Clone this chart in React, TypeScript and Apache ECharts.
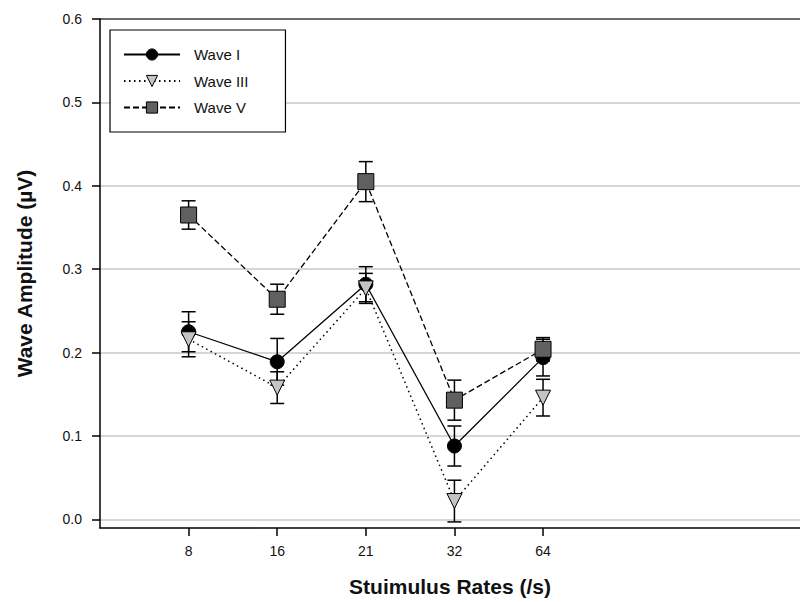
import React, { useEffect, useRef } from "react";
import * as echarts from "echarts";

const rates = ["8", "16", "21", "32", "64"];
const waveI = [0.225, 0.189, 0.282, 0.088, 0.194];
const waveIErr = [0.024, 0.028, 0.021, 0.024, 0.022];
const waveIII = [0.216, 0.158, 0.277, 0.022, 0.146];
const waveIIIErr = [0.021, 0.019, 0.018, 0.025, 0.022];
const waveV = [0.365, 0.264, 0.405, 0.143, 0.204];
const waveVErr = [0.017, 0.018, 0.024, 0.024, 0.014];
const yTicks = [0, 0.1, 0.2, 0.3, 0.4, 0.5, 0.6];

const FONT = "'Liberation Sans', Arial, sans-serif";

function pts(vals: number[]) {
  return vals.map((v, i) => [i + 1, v]);
}
function errData(vals: number[], errs: number[]) {
  return vals.map((v, i) => [i + 1, v - errs[i], v + errs[i]]);
}

function errorSeries(name: string, vals: number[], errs: number[]) {
  return {
    type: "custom",
    name: name + " err",
    z: 1,
    silent: true,
    encode: { x: 0, y: [1, 2] },
    data: errData(vals, errs),
    renderItem: (params: any, api: any) => {
      const x = api.value(0);
      const lo = api.coord([x, api.value(1)]);
      const hi = api.coord([x, api.value(2)]);
      const hw = 7;
      const style = { stroke: "#000", lineWidth: 1.5 };
      return {
        type: "group",
        children: [
          { type: "line", shape: { x1: lo[0], y1: lo[1], x2: hi[0], y2: hi[1] }, style },
          { type: "line", shape: { x1: lo[0] - hw, y1: lo[1], x2: lo[0] + hw, y2: lo[1] }, style },
          { type: "line", shape: { x1: hi[0] - hw, y1: hi[1], x2: hi[0] + hw, y2: hi[1] }, style },
        ],
      };
    },
  };
}

export default function App() {
  const ref = useRef<HTMLDivElement>(null);
  useEffect(() => {
    if (!ref.current) return;
    const chart = echarts.init(ref.current, null, { renderer: "svg" });
    chart.setOption({
      animation: false,
      backgroundColor: "#fff",
      grid: { left: 100, right: 0, top: 19, bottom: 73 },
      legend: {
        data: [
          { name: "Wave I", itemStyle: { color: "#000", borderColor: "#000", borderWidth: 1 } },
          { name: "Wave III", itemStyle: { color: "#c4c4c4", borderColor: "#000", borderWidth: 1 } },
          { name: "Wave V", itemStyle: { color: "#606060", borderColor: "#000", borderWidth: 1 } },
        ],
        orient: "vertical",
        left: 110,
        top: 30,
        itemWidth: 56,
        itemHeight: 14,
        itemGap: 11.5,
        padding: [17, 37, 17, 13],
        borderColor: "#000",
        borderWidth: 1.2,
        backgroundColor: "#fff",
        textStyle: { fontFamily: FONT, fontSize: 15, color: "#111", padding: [0, 0, 0, 9] },
      },
      xAxis: {
        type: "value",
        min: 0,
        max: 7.9,
        name: "Stuimulus Rates (/s)",
        nameLocation: "middle",
        nameGap: 48,
        nameTextStyle: { fontFamily: FONT, fontSize: 21, fontWeight: "bold", color: "#111" },
        axisLine: { show: true, onZero: false, lineStyle: { color: "#000", width: 1.5 } },
        axisTick: { show: true, length: 8, customValues: [1, 2, 3, 4, 5], lineStyle: { color: "#000", width: 1.5 } },
        axisLabel: {
          customValues: [1, 2, 3, 4, 5],
          formatter: (v: number) => rates[Math.round(v) - 1] ?? "",
          margin: 16,
          fontFamily: FONT,
          fontSize: 14,
          color: "#111",
        },
        splitLine: { show: false },
      },
      yAxis: {
        type: "value",
        min: -0.0103,
        max: 0.6,
        name: "Wave Amplitude (µV)",
        nameLocation: "middle",
        nameGap: 65,
        nameTextStyle: { fontFamily: FONT, fontSize: 21, fontWeight: "bold", color: "#111" },
        axisLine: { show: true, lineStyle: { color: "#000", width: 1.5 } },
        axisTick: { show: true, length: 8, customValues: yTicks, lineStyle: { color: "#000", width: 1.5 } },
        axisLabel: {
          customValues: yTicks,
          formatter: (v: number) => v.toFixed(1),
          margin: 18,
          fontFamily: FONT,
          fontSize: 14,
          color: "#111",
        },
        splitLine: {
          show: true,
          lineStyle: {
            color: ["#c8c8c8", "#c8c8c8", "#c8c8c8", "#c8c8c8", "#c8c8c8", "#c8c8c8", "#3a3a3a"],
            width: 1.5,
          },
        },
      },
      series: [
        errorSeries("Wave I", waveI, waveIErr),
        errorSeries("Wave III", waveIII, waveIIIErr),
        errorSeries("Wave V", waveV, waveVErr),
        {
          type: "line",
          name: "Wave I",
          data: pts(waveI),
          z: 3,
          symbol: "circle",
          symbolSize: 14,
          itemStyle: { color: "#000", borderColor: "#000", borderWidth: 1 },
          lineStyle: { color: "#000", width: 1.3, type: "solid" },
        },
        {
          type: "line",
          name: "Wave III",
          data: pts(waveIII),
          z: 3,
          symbol: "triangle",
          symbolRotate: 180,
          symbolSize: 15,
          itemStyle: { color: "#c4c4c4", borderColor: "#000", borderWidth: 1 },
          lineStyle: { color: "#000", width: 1.5, type: [1.5, 3.5] },
        },
        {
          type: "line",
          name: "Wave V",
          data: pts(waveV),
          z: 3,
          symbol: "rect",
          symbolSize: 16,
          itemStyle: { color: "#606060", borderColor: "#000", borderWidth: 1 },
          lineStyle: { color: "#000", width: 1.3, type: [6, 3] },
        },
      ],
    });
    return () => chart.dispose();
  }, []);
  return <div ref={ref} style={{ width: 800, height: 602, position: "absolute", left: 0, top: 0 }} />;
}
